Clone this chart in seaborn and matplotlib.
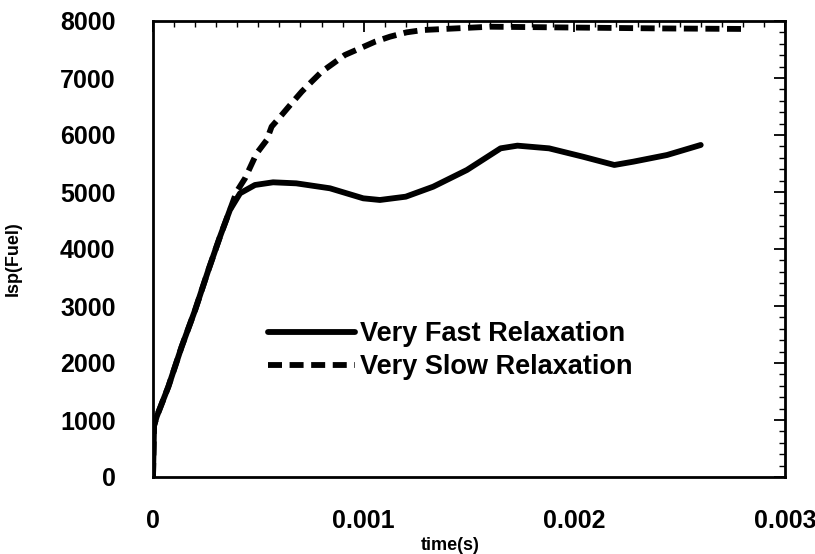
import matplotlib
matplotlib.use("Agg")
import matplotlib.pyplot as plt
import seaborn as sns
import pandas as pd
from matplotlib.ticker import MultipleLocator

# Values
tFast = [0, 0.000005, 0.0000175, 0.0000728, 0.000136, 0.0002, 0.000263, 0.000318,
         0.000365, 0.000413, 0.000484, 0.00057, 0.00068, 0.00084, 0.000998, 0.001077,
         0.0012, 0.00133, 0.00149, 0.00165, 0.00173, 0.00188, 0.00204, 0.00219,
         0.00228, 0.00244, 0.0026]
ispFast = [0, 900, 1058, 1584, 2286, 2930, 3632, 4216,
           4684, 4977, 5123, 5170, 5152, 5065, 4889, 4860,
           4918, 5093, 5386, 5766, 5813, 5766, 5620, 5474,
           5532, 5649, 5825]

tSlow = [0, 0.000005, 0.0000175, 0.0000728, 0.000136, 0.0002, 0.000263, 0.000318,
         0.000365, 0.000397, 0.000437, 0.000492, 0.00054, 0.000563, 0.000611, 0.000658,
         0.000706, 0.000753, 0.000801, 0.000856, 0.000911, 0.000983, 0.001054, 0.001125,
         0.001204, 0.001283, 0.0016, 0.002, 0.0024, 0.00282]
ispSlow = [0, 900, 1058, 1584, 2286, 2930, 3632, 4216,
           4684, 5006, 5240, 5678, 5912, 6146, 6351, 6556,
           6760, 6936, 7111, 7257, 7404, 7521, 7637, 7725,
           7801, 7842, 7900, 7885, 7870, 7860]

xTicks = [0, 0.001, 0.002, 0.003]
xTickLabels = ["0", "0.001", "0.002", "0.003"]
yTicks = [0, 1000, 2000, 3000, 4000, 5000, 6000, 7000, 8000]

fastDf = pd.DataFrame({"time": tFast, "isp": ispFast})
slowDf = pd.DataFrame({"time": tSlow, "isp": ispSlow})

sns.set_theme(style="white")
plt.rcParams["font.family"] = ["Liberation Sans", "DejaVu Sans"]
plt.rcParams["text.color"] = "black"
plt.rcParams["axes.labelcolor"] = "black"
plt.rcParams["xtick.color"] = "black"
plt.rcParams["ytick.color"] = "black"

fig = plt.figure(figsize=(8.15, 5.54), dpi=100)
ax = fig.add_axes([153 / 815, 1 - 477 / 554, 632 / 815, 456 / 554])

sns.lineplot(data=fastDf, x="time", y="isp", ax=ax, color="black", linewidth=4.2,
             label="Very Fast Relaxation", sort=False, estimator=None)
sns.lineplot(data=slowDf, x="time", y="isp", ax=ax, color="black", linewidth=4.2,
             linestyle=(0, (2.4, 1.3)), label="Very Slow Relaxation", sort=False, estimator=None)

ax.set_xlim(0, 0.003)
ax.set_ylim(0, 8000)
ax.set_xticks(xTicks)
ax.set_xticklabels(xTickLabels)
ax.set_yticks(yTicks)
ax.xaxis.set_minor_locator(MultipleLocator(0.0001))
ax.yaxis.set_minor_locator(MultipleLocator(200))

ax.tick_params(axis="both", which="both", direction="in", top=True, right=True, color="black")
ax.tick_params(axis="both", which="major", length=8, width=1.3)
ax.tick_params(axis="both", which="minor", length=4, width=1.0)
ax.tick_params(axis="y", which="major", pad=27, labelsize=18)
ax.tick_params(axis="x", which="major", pad=23, labelsize=18)
for lbl in ax.get_xticklabels() + ax.get_yticklabels():
    lbl.set_fontweight("bold")
    lbl.set_color("black")

for spine in ax.spines.values():
    spine.set_color("black")
    spine.set_linewidth(2)

ax.set_xlabel("time(s)", fontsize=13, fontweight="bold", color="black")
ax.set_ylabel("Isp(Fuel)", fontsize=13, fontweight="bold", color="black")
ax.xaxis.set_label_coords(0.47, -0.132)
ax.yaxis.set_label_coords(-0.207, 0.478)

leg = ax.legend(loc="upper left", bbox_to_anchor=(0.165, 0.365), frameon=False,
                fontsize=19.5, handlelength=3.2, handletextpad=0.2, labelspacing=0.25,
                borderaxespad=0)
for txt in leg.get_texts():
    txt.set_fontweight("bold")
    txt.set_color("black")

fig.savefig("out.png", dpi=100)
plt.close(fig)
